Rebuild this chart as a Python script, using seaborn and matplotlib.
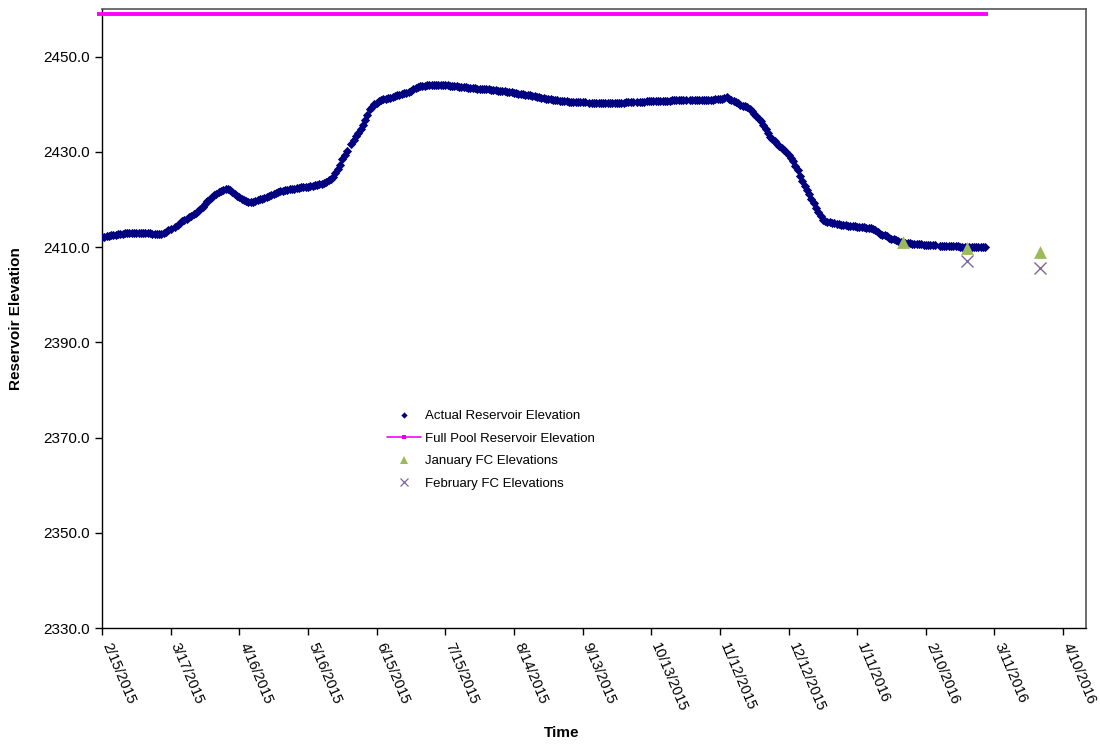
import numpy as np
import pandas as pd
import matplotlib
matplotlib.use("Agg")
import matplotlib.pyplot as plt
from matplotlib.lines import Line2D
import seaborn as sns

# Daily observed reservoir elevation (ft) starting 2/15/2015; NaN = missing reading
actual_start = "2015-02-15"
actual_elev = [
    2412.1, 2412.2, 2412.3, 2412.4, 2412.5, 2412.6, 2412.6, 2412.7, 2412.7, 2412.8,
    2412.9, 2412.9, 2413.0, 2413.0, 2413.0, 2413.0, 2413.0, 2413.0, 2412.9, 2412.9,
    2412.9, 2412.9, 2412.8, 2412.8, 2412.8, 2412.8, 2412.8, 2412.9, 2413.2, 2413.5,
    2413.9, np.nan, 2414.3, 2414.7, 2415.1, 2415.4, 2415.7, 2416.0, 2416.3, 2416.6,
    2416.9, 2417.2, 2417.5, 2418.0, 2418.5, 2419.1, 2419.6, 2420.1, 2420.5, 2420.9,
    2421.2, 2421.5, 2421.8, 2422.0, 2422.2, 2422.1, 2421.9, 2421.5, 2421.2, 2420.8,
    2420.5, 2420.2, 2419.9, 2419.7, 2419.5, 2419.4, 2419.4, 2419.6, 2419.8, 2420.0,
    2420.2, 2420.3, 2420.5, 2420.7, 2420.9, 2421.1, 2421.3, 2421.5, 2421.7, 2421.8,
    2421.9, 2422.0, 2422.1, 2422.2, 2422.3, 2422.4, 2422.5, 2422.6, 2422.6, 2422.7,
    2422.7, 2422.8, 2422.9, 2423.0, 2423.1, 2423.2, 2423.3, 2423.5, 2423.7, 2424.0,
    2424.4, 2424.8, 2425.5, 2426.3, 2427.3, 2428.4, 2429.3, 2430.1, np.nan, 2431.7,
    2432.5, 2433.3, 2434.0, 2434.7, 2435.6, 2436.7, 2437.8, 2438.9, 2439.5, 2440.0,
    2440.3, 2440.6, 2440.8, 2441.0, 2441.1, 2441.3, 2441.4, 2441.6, 2441.7, 2441.9,
    2442.0, 2442.1, 2442.3, 2442.4, 2442.6, 2442.8, 2443.1, 2443.4, 2443.6, 2443.8,
    2443.9, 2443.9, 2444.0, 2444.0, 2444.0, 2444.1, 2444.1, 2444.1, 2444.1, 2444.1,
    2444.0, 2444.0, 2443.9, 2443.9, 2443.8, 2443.8, 2443.7, 2443.7, 2443.6, 2443.6,
    2443.5, 2443.5, 2443.4, 2443.4, 2443.3, 2443.3, 2443.2, 2443.2, 2443.1, 2443.1,
    2443.0, 2442.9, 2442.9, 2442.8, 2442.8, 2442.7, 2442.7, 2442.6, 2442.5, 2442.5,
    2442.4, 2442.3, 2442.2, 2442.1, 2442.1, 2442.0, 2441.9, 2441.9, 2441.8, 2441.7,
    2441.6, 2441.5, 2441.4, 2441.3, 2441.2, 2441.1, 2441.0, 2440.9, 2440.8, 2440.8,
    2440.7, 2440.7, 2440.6, 2440.6, 2440.5, 2440.5, 2440.5, 2440.5, 2440.4, 2440.4,
    2440.4, 2440.4, np.nan, 2440.3, 2440.3, 2440.3, 2440.3, 2440.3, 2440.3, 2440.3,
    2440.3, 2440.3, 2440.3, 2440.3, 2440.3, 2440.3, 2440.3, 2440.3, 2440.3, 2440.4,
    2440.4, 2440.4, 2440.4, np.nan, 2440.5, 2440.5, 2440.5, 2440.5, 2440.6, 2440.6,
    2440.6, 2440.6, 2440.6, 2440.7, 2440.7, 2440.7, 2440.7, 2440.7, 2440.7, 2440.8,
    2440.8, 2440.8, 2440.8, 2440.8, 2440.8, 2440.8, np.nan, 2440.8, 2440.8, 2440.9,
    2440.9, 2440.9, 2440.9, 2440.9, 2440.9, 2440.9, 2440.9, 2440.9, 2441.0, 2441.0,
    2441.0, 2441.1, 2441.4, 2441.5, 2441.2, 2440.9, 2440.6, 2440.4, 2440.2, 2439.9,
    2439.7, 2439.6, 2439.4, 2439.0, 2438.5, 2438.0, 2437.5, 2437.0, 2436.4, 2435.6,
    2434.8, 2434.0, 2433.2, 2432.7, 2432.2, 2431.7, 2431.2, 2430.8, 2430.4, 2429.9,
    2429.3, 2428.7, 2428.0, 2427.1, 2426.1, 2425.0, 2423.8, 2422.9, 2422.0, 2421.1,
    2420.2, 2419.3, 2418.3, 2417.4, 2416.5, 2415.7, 2415.4, 2415.3, 2415.2, 2415.1,
    2415.0, 2414.9, 2414.8, 2414.7, 2414.6, 2414.6, 2414.5, 2414.5, 2414.4, 2414.4,
    2414.3, 2414.3, 2414.2, 2414.2, 2414.1, 2414.1, 2414.0, 2413.9, 2413.6, 2413.2,
    2412.8, 2412.6, 2412.5, 2412.3, 2412.0, 2411.8, 2411.6, 2411.4, 2411.2, 2411.0,
    2410.9, 2410.9, 2410.8, 2410.8, 2410.7, 2410.7, 2410.6, 2410.6, 2410.6, 2410.5,
    2410.5, 2410.5, 2410.4, 2410.4, 2410.4, np.nan, 2410.3, 2410.3, 2410.3, 2410.3,
    2410.3, 2410.2, 2410.2, 2410.2, 2410.2, 2410.1, 2410.1, 2410.1, 2410.1, 2410.1,
    2410.0, 2410.0, 2410.0, 2410.0, 2410.0, 2410.0, 2410.0,
]

# Full pool elevation line
full_pool_dates = ["2015-02-13", "2016-03-08"]
full_pool_elev = [2459.0, 2459.0]

# Forecast elevations
jan_fc_dates = ["2016-01-31", "2016-02-28", "2016-03-31"]
jan_fc_elev = [2411.0, 2409.8, 2409.0]
feb_fc_dates = ["2016-02-28", "2016-03-31"]
feb_fc_elev = [2407.0, 2405.7]

# Axis setup
x_tick_start = "2015-02-15"
x_tick_count = 15
x_tick_step_days = 30
x_limits = ["2015-02-15", "2016-04-20"]
y_ticks = [2330, 2350, 2370, 2390, 2410, 2430, 2450]
y_limits = [2330, 2460]

sns.set_style("white")
plt.rcParams["font.family"] = ["Liberation Sans", "DejaVu Sans"]
plt.rcParams.update({
    "text.color": "black",
    "axes.labelcolor": "black",
    "xtick.color": "black",
    "ytick.color": "black",
})

fig = plt.figure(figsize=(11.0, 7.44), dpi=100)
ax = fig.add_axes([102 / 1100, 116 / 744, 984 / 1100, 619 / 744])

actual_df = pd.DataFrame({
    "date": pd.date_range(actual_start, periods=len(actual_elev), freq="D"),
    "elev": actual_elev,
}).dropna()

sns.scatterplot(data=actual_df, x="date", y="elev", marker="D", s=22,
                color="#000080", linewidth=0, ax=ax, legend=False, zorder=3)

ax.plot(pd.to_datetime(full_pool_dates), full_pool_elev, color="#FF00FF",
        lw=2.8, solid_capstyle="butt", clip_on=False, zorder=4)

sns.scatterplot(x=pd.to_datetime(jan_fc_dates), y=jan_fc_elev, marker="^", s=85,
                color="#9BBB59", linewidth=0, ax=ax, legend=False, zorder=5)
sns.scatterplot(x=pd.to_datetime(feb_fc_dates), y=feb_fc_elev, marker="x", s=75,
                color="#8064A2", linewidth=1.0, ax=ax, legend=False, zorder=5)

xticks = pd.date_range(x_tick_start, periods=x_tick_count, freq=f"{x_tick_step_days}D")
ax.set_xticks(xticks)
ax.set_xticklabels([f"{d.month}/{d.day}/{d.year}" for d in xticks],
                   rotation=-67, ha="left", va="baseline", rotation_mode="anchor",
                   fontsize=10.5)
ax.set_xlim(pd.to_datetime(x_limits[0]), pd.to_datetime(x_limits[1]))

ax.set_yticks(y_ticks)
ax.set_yticklabels([f"{v:.1f}" for v in y_ticks], fontsize=11)
ax.set_ylim(*y_limits)

ax.tick_params(axis="both", direction="out", length=5, width=1, color="black",
               labelcolor="black", left=True, bottom=True)
ax.tick_params(axis="y", pad=4)
ax.tick_params(axis="x", pad=7)

for side in ["left", "bottom"]:
    ax.spines[side].set_color("black")
    ax.spines[side].set_linewidth(1.0)
for side in ["top", "right"]:
    ax.spines[side].set_color("#555555")
    ax.spines[side].set_linewidth(1.2)

ax.set_xlabel("")
ax.set_ylabel("")
fig.text(562 / 1100, 1 - 733 / 744, "Time", ha="center", va="center",
         fontsize=11, fontweight="bold", color="black")
fig.text(16 / 1100, 1 - 319 / 744, "Reservoir Elevation", ha="center", va="center",
         rotation=90, fontsize=11, fontweight="bold", color="black")

handles = [
    Line2D([], [], linestyle="none", marker="D", markersize=3.2,
           color="#000080", markeredgewidth=0),
    Line2D([], [], color="#FF00FF", lw=1.2, marker="s", markersize=3,
           markerfacecolor="#E000E0", markeredgewidth=0),
    Line2D([], [], linestyle="none", marker="^", markersize=6,
           color="#9BBB59", markeredgewidth=0),
    Line2D([], [], linestyle="none", marker="x", markersize=5.5,
           color="#8064A2", markeredgewidth=0.9),
]
labels = ["Actual Reservoir Elevation", "Full Pool Reservoir Elevation",
          "January FC Elevations", "February FC Elevations"]
fig.legend(handles, labels, loc="upper left",
           bbox_to_anchor=(387 / 1100, 1 - 410 / 744), frameon=False,
           fontsize=9.5, handlelength=2.6, handletextpad=0.3,
           labelspacing=0.78, borderpad=0, borderaxespad=0, labelcolor="black")

fig.savefig("out.png", dpi=100)
